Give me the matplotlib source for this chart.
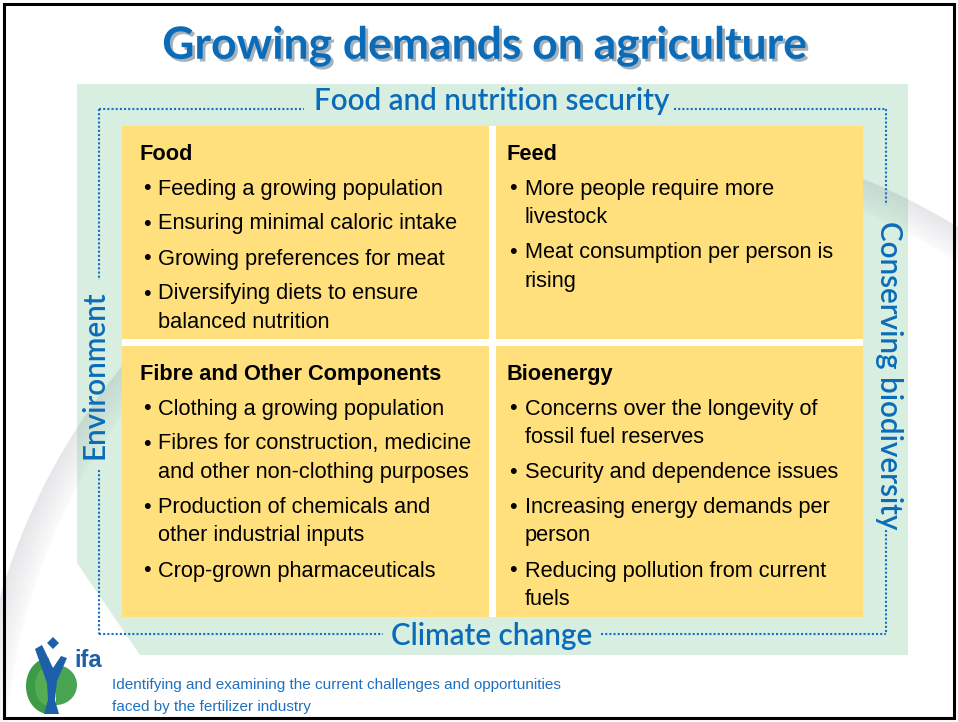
import numpy as np
import matplotlib.pyplot as plt
import matplotlib.patheffects as pe
from matplotlib.patches import Rectangle, Polygon

# ---------------- content ----------------
title = "Growing demands on agriculture"
top_label = "Food and nutrition security"
bottom_label = "Climate change"
left_label = "Environment"
right_label = "Conserving biodiversity"

headers = ["Food", "Feed", "Fibre and Other Components", "Bioenergy"]
bullets = [
    [["Feeding a growing population"],
     ["Ensuring minimal caloric intake"],
     ["Growing preferences for meat"],
     ["Diversifying diets to ensure", "balanced nutrition"]],
    [["More people require more", "livestock"],
     ["Meat consumption per person is", "rising"]],
    [["Clothing a growing population"],
     ["Fibres for construction, medicine", "and other non-clothing purposes"],
     ["Production of chemicals and", "other industrial inputs"],
     ["Crop-grown pharmaceuticals"]],
    [["Concerns over the longevity of", "fossil fuel reserves"],
     ["Security and dependence issues"],
     ["Increasing energy demands per", "person"],
     ["Reducing pollution from current", "fuels"]],
]
footer = ["Identifying and examining the current challenges and opportunities",
          "faced by the fertilizer industry"]

# ---------------- style ----------------
W, H = 958, 722
BLUE = "#0a6cb8"
DOT_BLUE = "#1670c4"
GREEN_BG = "#d7eee0"
YELLOW = "#ffe07c"
LOGO_BLUE = "#1d5fa8"
head_font = ["Lato", "DejaVu Sans"]
body_font = ["Liberation Sans", "DejaVu Sans"]

fig = plt.figure(figsize=(W / 100, H / 100), dpi=100)
ax = fig.add_axes([0, 0, 1, 1])
ax.set_xlim(0, W)
ax.set_ylim(H, 0)
ax.axis("off")

# outer frame
ax.add_patch(Rectangle((4, 4), W - 8, H - 8, fill=False, ec="black", lw=2.2, zorder=10))

# green band (bottom-left corner cut by the swoosh)
ax.add_patch(Polygon([(77, 84), (908, 84), (908, 655), (140, 655), (77, 563)],
                     closed=True, fc=GREEN_BG, ec="none", zorder=1))

# decorative swoosh arc
cx, cy, r0 = 620, 777, 645
th = np.linspace(np.radians(20), np.radians(200), 600)
for k in range(30):
    rr = r0 - k
    a = 0.14 * (1 - k / 30) + 0.02
    ax.plot(cx + rr * np.cos(th), cy - rr * np.sin(th), color="#8a8f9a",
            lw=1.0, alpha=a, zorder=2, solid_capstyle="butt")

# white panel behind the quadrants (shows as the gaps)
ax.add_patch(Rectangle((122, 126), 741, 491, fc="white", ec="none", zorder=2.5))

# dotted frame
dot = dict(color=DOT_BLUE, lw=1.5, ls=(0, (1, 1.0)), zorder=3)
ax.plot([99, 304], [109, 109], **dot)
ax.plot([674, 886], [109, 109], **dot)
ax.plot([99, 99], [109, 280], **dot)
ax.plot([99, 99], [470, 634], **dot)
ax.plot([99, 383], [634, 634], **dot)
ax.plot([601, 886], [634, 634], **dot)
ax.plot([886, 886], [109, 205], **dot)
ax.plot([886, 886], [530, 634], **dot)

# frame labels
lab = dict(color=BLUE, fontsize=21.3, family=head_font, fontweight="semibold", zorder=4)
ax.text(492, 101, top_label, ha="center", va="center", **lab)
ax.text(492, 636, bottom_label, ha="center", va="center", **lab)
ax.text(95, 375, left_label, ha="center", va="center", rotation=90, **lab)
ax.text(889, 375, right_label, ha="center", va="center", rotation=270, **lab)

# title
ax.text(485, 46, title, ha="center", va="center", color=BLUE, fontsize=32,
        family=head_font, fontweight="bold", zorder=5,
        path_effects=[pe.withSimplePatchShadow(offset=(2, -2), alpha=0.35)])

# quadrants: (left, top, header/bullet/text x offsets)
boxes = [(122, 126), (496, 126), (122, 346), (496, 346)]
offs = [(18, 21, 36), (11, 13, 29), (18, 21, 36), (11, 13, 29)]
bw, bh_top, bh_bot = 367, 213, 271
for i, (x0, y0) in enumerate(boxes):
    h = bh_top if i < 2 else bh_bot
    ax.add_patch(Rectangle((x0, y0), bw, h, fc=YELLOW, ec="none", zorder=3))
    hx, bx, tx = offs[i]
    y = y0 + 34
    ax.text(x0 + hx, y, headers[i], ha="left", va="baseline", fontsize=15.7,
            fontweight="bold", family=body_font, zorder=4)
    y += 34.5
    for item in bullets[i]:
        ax.text(x0 + bx, y, "\u2022", ha="left", va="baseline", fontsize=15.7,
                family=body_font, zorder=4)
        for j, line in enumerate(item):
            ax.text(x0 + tx, y, line, ha="left", va="baseline", fontsize=15.7,
                    family=body_font, zorder=4)
            if j < len(item) - 1:
                y += 28.5
        y += 35

# ifa logo
t = np.linspace(np.pi / 2, 3 * np.pi / 2, 60)
ax.add_patch(Polygon(np.c_[49 + 23 * np.cos(t), 686 + 28 * np.sin(t)],
                     fc="#3d9a46", ec="none", zorder=4))
ax.add_patch(Polygon(np.c_[49 + 14 * np.cos(t), 686 + 20 * np.sin(t)],
                     fc="#69b860", ec="none", zorder=4, alpha=0.6))
t2 = np.linspace(-np.pi / 2, np.pi / 2, 60)
ax.add_patch(Polygon(np.c_[56 + 21 * np.cos(t2), 685 + 20 * np.sin(t2)],
                     fc="#4aa552", ec="none", zorder=4))
ax.add_patch(Polygon([(35, 649), (42, 645), (53, 668), (61, 656), (67, 658),
                      (57, 681), (55, 700), (59, 714), (44, 714), (48, 700),
                      (47, 683)], fc=LOGO_BLUE, ec="none", zorder=5))
ax.add_patch(Polygon([(53, 637), (59, 643), (53, 649), (47, 643)],
                     fc=LOGO_BLUE, ec="none", zorder=5))
ax.text(74, 667, "ifa", ha="left", va="baseline", color=LOGO_BLUE, fontsize=17,
        fontweight="bold", family=body_font, zorder=5)

# footer
for k, line in enumerate(footer):
    ax.text(112, 689 + 22 * k, line, ha="left", va="baseline", color="#1f70c0",
            fontsize=11.0, family=body_font, zorder=5)

fig.savefig("out.png", dpi=100)
